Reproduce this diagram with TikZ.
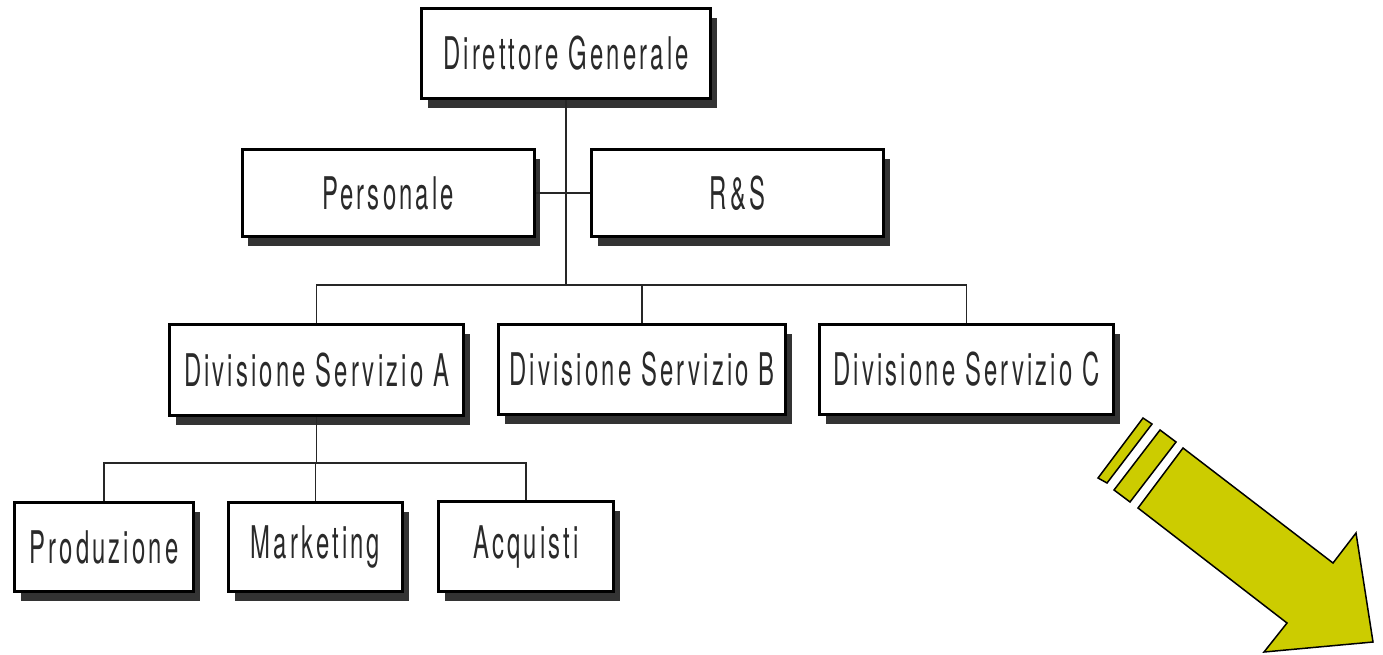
\documentclass[tikz,border=0pt]{standalone}
\usepackage{fontspec}
\newfontfamily\boxfont[FakeStretch=0.53,LetterSpace=7]{TeX Gyre Heros}
\usetikzlibrary{shadows}
\definecolor{arrowyellow}{HTML}{CCCC00}
\definecolor{inkgray}{HTML}{2A2A2A}
\tikzset{
  orgbox/.style={draw=black, line width=3pt, fill=white, inner sep=0pt,
    text=inkgray, font=\boxfont\fontsize{45}{45}\selectfont,
    drop shadow={shadow xshift=6pt, shadow yshift=-9pt, fill=black!80, opacity=1}},
  link/.style={draw=black!85, line width=1.5pt},
  bigarrow/.style={draw=black, line width=1.5pt, fill=arrowyellow, line join=miter}
}
\begin{document}
\begin{tikzpicture}[x=1pt, y=-1pt]
  \useasboundingbox (0,0) rectangle (1383,654);
  \fill[white] (0,0) rectangle (1383,654);

  % top level
  \node[orgbox, minimum width=289pt, minimum height=90pt] (dg) at (566,53.5) {Direttore Generale};
  % staff units
  \node[orgbox, minimum width=292pt, minimum height=87pt] (pers) at (388,193) {Personale};
  \node[orgbox, minimum width=292pt, minimum height=87pt] (rs) at (737.5,193) {R\&S};
  % divisions
  \node[orgbox, minimum width=294pt, minimum height=91pt] (diva) at (316.5,370) {Divisione Servizio A};
  \node[orgbox, minimum width=287pt, minimum height=90pt] (divb) at (642,369.5) {Divisione Servizio B};
  \node[orgbox, minimum width=294pt, minimum height=90pt] (divc) at (966.5,369.5) {Divisione Servizio C};
  % functions of division A
  \node[orgbox, minimum width=179pt, minimum height=89pt] (prod) at (104,547) {Produzione};
  \node[orgbox, minimum width=174pt, minimum height=89pt] (mark) at (315.5,547) {Marketing};
  \node[orgbox, minimum width=175pt, minimum height=90pt] (acq) at (526,546.5) {Acquisti};

  % connectors
  \coordinate (bus1) at (566,285);
  \coordinate (bus2) at (316.5,463);
  \draw[link] (dg.south) -- (bus1);
  \draw[link] (pers.east) -- (rs.west);
  \draw[link] (diva.north) |- (bus1) -| (divc.north);
  \draw[link] (divb.north) -- (divb.north |- bus1);
  \draw[link] (diva.south) -- (bus2);
  \draw[link] (prod.north) |- (bus2) -| (acq.north);
  \draw[link] (mark.north) -- (mark.north |- bus2);

  % striped arrow pointing down-right
  \draw[bigarrow] (1143,418) -- (1152,424) -- (1107,483) -- (1098,478) -- cycle;
  \draw[bigarrow] (1160,430) -- (1176,442) -- (1130,502) -- (1114,490) -- cycle;
  \draw[bigarrow] (1183,448) -- (1333,563) -- (1356,533) -- (1373,642)
    -- (1264,652) -- (1287,623) -- (1138,508) -- cycle;
\end{tikzpicture}
\end{document}
